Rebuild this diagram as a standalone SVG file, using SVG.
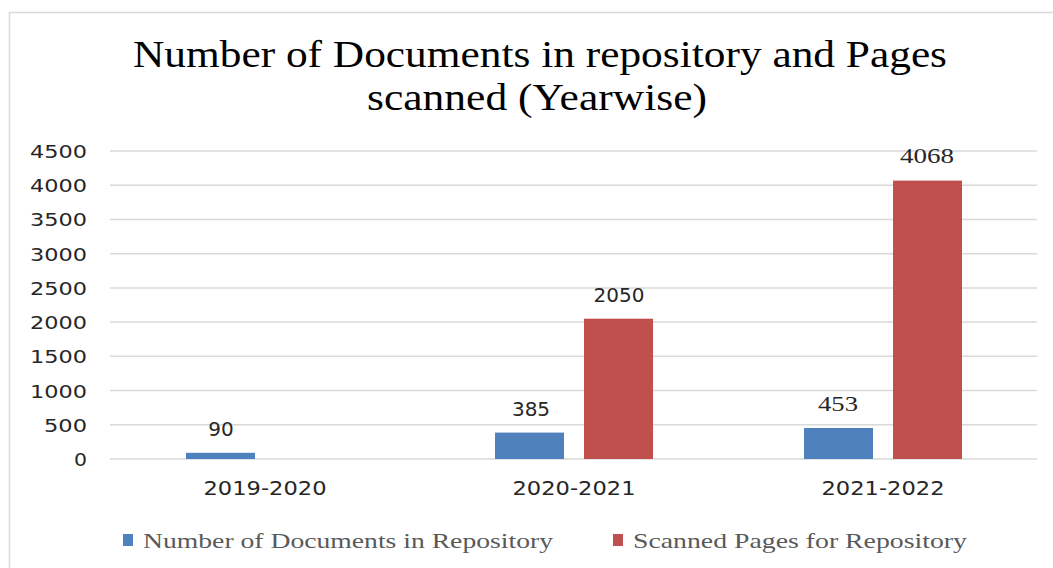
<svg xmlns="http://www.w3.org/2000/svg" width="1053" height="568" viewBox="0 0 1053 568">
<style>
.frame{fill:#ffffff;stroke:#d9d9d9;stroke-width:1.5}
.grid{stroke:#d9d9d9;stroke-width:1.5}
.title{font-family:"Liberation Serif",serif;font-size:37px;fill:#000000;text-anchor:middle}
.ax{font-family:"DejaVu Sans",sans-serif;font-size:18px;fill:#262626;text-anchor:end}
.cat{font-family:"DejaVu Sans",sans-serif;font-size:19px;fill:#262626;text-anchor:middle}
.val{font-family:"DejaVu Sans",sans-serif;font-size:20px;fill:#262626;text-anchor:middle}
.vals{font-family:"Liberation Serif",serif;font-size:21px;fill:#262626;text-anchor:middle}
.leg{font-family:"Liberation Serif",serif;font-size:21px;fill:#595959}
.blue{fill:#4f81bd}
.red{fill:#c0504d}
</style>
<rect width="1053" height="568" fill="#ffffff"/>
<path class="frame" d="M9.5,568 V12.5 H1053" fill="none"/>
<g id="title">
<text class="title" x="540" y="67" textLength="814" lengthAdjust="spacingAndGlyphs">Number of Documents in repository and Pages</text>
<text class="title" x="537" y="110" textLength="340" lengthAdjust="spacingAndGlyphs">scanned (Yearwise)</text>
</g>
<g id="gridlines">
<line class="grid" x1="110" y1="459" x2="1037" y2="459"/>
<line class="grid" x1="110" y1="424.8" x2="1037" y2="424.8"/>
<line class="grid" x1="110" y1="390.6" x2="1037" y2="390.6"/>
<line class="grid" x1="110" y1="356.3" x2="1037" y2="356.3"/>
<line class="grid" x1="110" y1="322.1" x2="1037" y2="322.1"/>
<line class="grid" x1="110" y1="287.9" x2="1037" y2="287.9"/>
<line class="grid" x1="110" y1="253.7" x2="1037" y2="253.7"/>
<line class="grid" x1="110" y1="219.4" x2="1037" y2="219.4"/>
<line class="grid" x1="110" y1="185.2" x2="1037" y2="185.2"/>
<line class="grid" x1="110" y1="151" x2="1037" y2="151"/>
</g>
<g id="y-axis">
<text class="ax" x="87" y="466" textLength="13" lengthAdjust="spacingAndGlyphs">0</text>
<text class="ax" x="87" y="431.8" textLength="43" lengthAdjust="spacingAndGlyphs">500</text>
<text class="ax" x="87" y="397.6" textLength="57" lengthAdjust="spacingAndGlyphs">1000</text>
<text class="ax" x="87" y="363.3" textLength="57" lengthAdjust="spacingAndGlyphs">1500</text>
<text class="ax" x="87" y="329.1" textLength="57" lengthAdjust="spacingAndGlyphs">2000</text>
<text class="ax" x="87" y="294.9" textLength="57" lengthAdjust="spacingAndGlyphs">2500</text>
<text class="ax" x="87" y="260.7" textLength="57" lengthAdjust="spacingAndGlyphs">3000</text>
<text class="ax" x="87" y="226.4" textLength="57" lengthAdjust="spacingAndGlyphs">3500</text>
<text class="ax" x="87" y="192.2" textLength="57" lengthAdjust="spacingAndGlyphs">4000</text>
<text class="ax" x="87" y="158" textLength="57" lengthAdjust="spacingAndGlyphs">4500</text>
</g>
<g id="bars-documents">
<rect class="blue" x="186" y="452.8" width="69" height="6.2"/>
<rect class="blue" x="495" y="432.6" width="69" height="26.4"/>
<rect class="blue" x="804" y="428" width="69" height="31"/>
</g>
<g id="bars-pages">
<rect class="red" x="584" y="318.7" width="69" height="140.3"/>
<rect class="red" x="893" y="180.6" width="69" height="278.4"/>
</g>
<g id="data-labels">
<text class="val" x="221" y="436">90</text>
<text class="val" x="531" y="416">385</text>
<text class="val" x="619" y="302">2050</text>
<text class="vals" x="838" y="411" textLength="40" lengthAdjust="spacingAndGlyphs">453</text>
<text class="vals" x="927" y="163" textLength="54" lengthAdjust="spacingAndGlyphs">4068</text>
</g>
<g id="categories">
<text class="cat" x="265" y="495" textLength="123" lengthAdjust="spacingAndGlyphs">2019-2020</text>
<text class="cat" x="574" y="495" textLength="123" lengthAdjust="spacingAndGlyphs">2020-2021</text>
<text class="cat" x="883" y="495" textLength="123" lengthAdjust="spacingAndGlyphs">2021-2022</text>
</g>
<g id="legend">
<rect class="blue" x="123" y="534" width="10" height="12"/>
<text class="leg" x="143" y="548" textLength="410" lengthAdjust="spacingAndGlyphs">Number of Documents in Repository</text>
<rect class="red" x="613" y="534" width="10" height="12"/>
<text class="leg" x="633" y="548" textLength="334" lengthAdjust="spacingAndGlyphs">Scanned Pages for Repository</text>
</g>
</svg>
